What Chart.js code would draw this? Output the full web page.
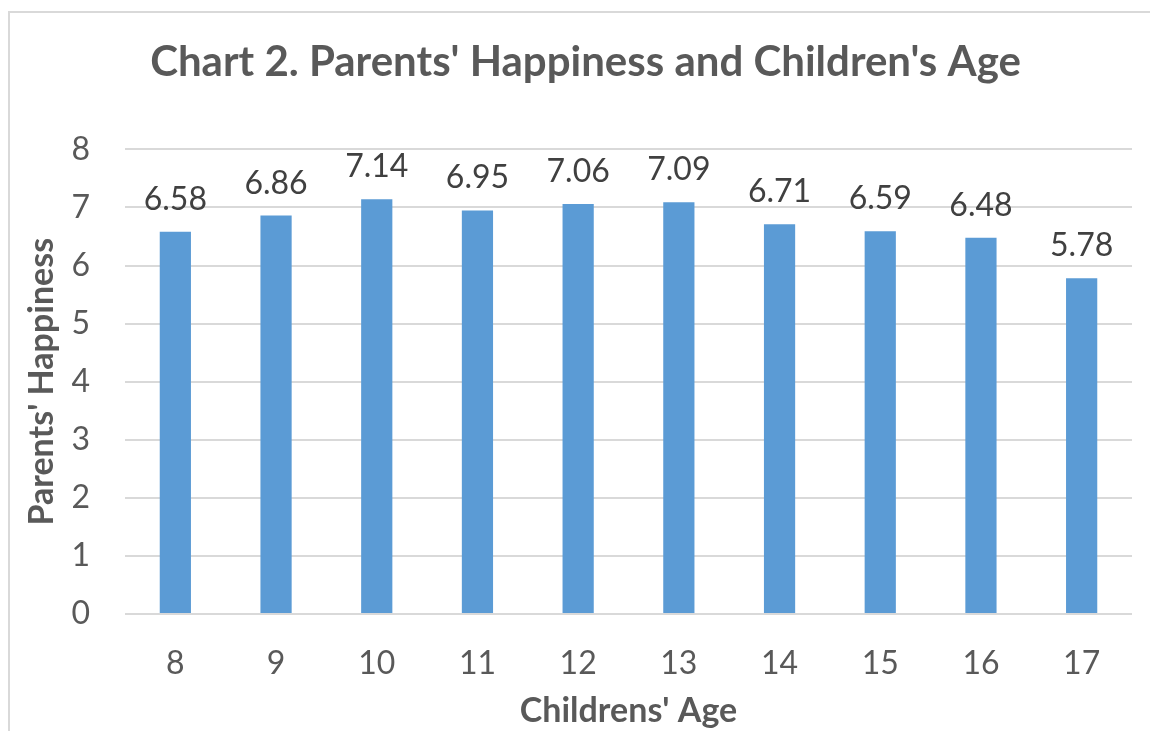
<!DOCTYPE html>
<html>
<head>
<meta charset="utf-8">
<script src="https://cdn.jsdelivr.net/npm/chart.js@4/dist/chart.umd.min.js"></script>
<style>
  html, body { margin: 0; padding: 0; background: #fff; }
  #wrap { position: relative; width: 1150px; height: 731px; overflow: hidden; }
  #frame { position: absolute; left: 8px; top: 11px; width: 1160px; height: 760px; border: 2px solid #d9d9d9; box-sizing: border-box; }
  #happyChart { position: absolute; left: 0; top: 0; }
</style>
</head>
<body>
<div id="wrap">
  <div id="frame"></div>
  <canvas id="happyChart" width="1150" height="731"></canvas>
</div>
<script>
// Données du graphique
const ages = ["8", "9", "10", "11", "12", "13", "14", "15", "16", "17"];
const happiness = [6.58, 6.86, 7.14, 6.95, 7.06, 7.09, 6.71, 6.59, 6.48, 5.78];
const yTicks = [0, 1, 2, 3, 4, 5, 6, 7, 8];

const fontFamily = "Lato, 'Liberation Sans', sans-serif";

// petites étiquettes au-dessus des barres
const barLabels = {
    id: "barLabels",
    afterLayout(chart) {
        // le titre est centré sur le cadre, pas sur le canvas
        if (chart.titleBlock) chart.titleBlock.left += 27;
    },
    afterDatasetsDraw(chart) {
        const ctx = chart.ctx;
        const meta = chart.getDatasetMeta(0);
        ctx.save();
        ctx.font = "32px " + fontFamily;
        ctx.fillStyle = "#404040";
        ctx.textAlign = "center";
        ctx.textBaseline = "alphabetic";
        meta.data.forEach((bar, i) => {
            ctx.fillText(happiness[i].toFixed(2), bar.x, bar.y - 22);
        });
        ctx.restore();
    }
};

function displayHappinessChart() {
    const ctx = document.getElementById("happyChart").getContext("2d");

    new Chart(ctx, {
        type: "bar",
        data: {
            labels: ages,
            datasets: [{
                data: happiness,
                backgroundColor: "#5B9BD5",
                barPercentage: 0.31,
                categoryPercentage: 1
            }]
        },
        options: {
            responsive: false,
            animation: false,
            layout: { padding: { left: 12, right: 18, top: 0, bottom: 0 } },
            plugins: {
                legend: { display: false },
                tooltip: { enabled: false },
                title: {
                    display: true,
                    text: "Chart 2. Parents' Happiness and Children's Age",
                    color: "#595959",
                    font: { family: fontFamily, size: 42, weight: "bold" },
                    padding: { top: 37, bottom: 62 }
                }
            },
            scales: {
                x: {
                    grid: { display: false, drawTicks: false },
                    border: { display: false },
                    ticks: {
                        color: "#595959",
                        font: { family: fontFamily, size: 32 },
                        padding: 30
                    },
                    title: {
                        display: true,
                        text: "Childrens' Age",
                        color: "#595959",
                        font: { family: fontFamily, size: 34, weight: "bold" },
                        padding: { top: 0, bottom: 0 }
                    },
                    afterFit(scale) { scale.height = 117; }
                },
                y: {
                    min: 0,
                    max: 8,
                    afterBuildTicks(scale) {
                        scale.ticks = yTicks.map(v => ({ value: v }));
                    },
                    grid: { color: "#d9d9d9", lineWidth: 2, drawTicks: false },
                    border: { display: false },
                    ticks: {
                        color: "#595959",
                        font: { family: fontFamily, size: 32 },
                        padding: 35
                    },
                    title: {
                        display: true,
                        text: "Parents' Happiness",
                        color: "#595959",
                        font: { family: fontFamily, size: 34, weight: "bold" },
                        padding: { top: 10, bottom: 0 }
                    },
                    afterFit(scale) { scale.width = 113; }
                }
            }
        },
        plugins: [barLabels]
    });
}

displayHappinessChart();
</script>
</body>
</html>
